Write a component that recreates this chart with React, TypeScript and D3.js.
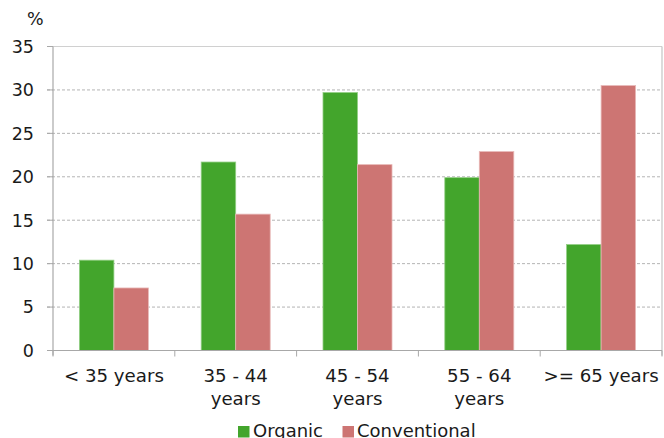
import * as d3 from "d3";

const categories = ["< 35 years", "35 - 44 years", "45 - 54 years", "55 - 64 years", ">= 65 years"];
const categoryLines = [["< 35 years"], ["35 - 44", "years"], ["45 - 54", "years"], ["55 - 64", "years"], [">= 65 years"]];
const seriesNames = ["Organic", "Conventional"];
const organic = [10.4, 21.7, 29.7, 19.9, 12.2];
const conventional = [7.2, 15.7, 21.4, 22.9, 30.5];
const yTicks = [0, 5, 10, 15, 20, 25, 30, 35];

const colors = ["#43a52c", "#cd7573"];
const strokes = ["#93cf85", "#e8b9b8"];

const width = 664;
const height = 438;
const plot = { left: 53, right: 662, top: 46.5, bottom: 350.5 };
const font = "'DejaVu Sans', Verdana, sans-serif";

const App = () => {
  const x0 = d3.scaleBand<string>().domain(categories).range([plot.left, plot.right]);
  const x1 = d3
    .scaleBand<string>()
    .domain(seriesNames)
    .range([0, x0.bandwidth()])
    .paddingInner(0)
    .paddingOuter(0.765);
  const y = d3.scaleLinear().domain([0, 35]).range([plot.bottom, plot.top]);

  const values = [organic, conventional];
  const bounds = categories.map((c) => x0(c)!).concat([plot.right]);

  return (
    <>
      <style>{"body{margin:0}"}</style>
      <svg width={width} height={height} style={{ display: "block" }} fontFamily={font}>
        {/* gridlines */}
        {yTicks.slice(1).map((t) => (
          <line key={t} x1={plot.left - 6} x2={plot.right} y1={y(t)} y2={y(t)}
            stroke="#b4b4b4" strokeDasharray="3,2" strokeWidth={1} />
        ))}
        {/* plot border top/right */}
        <line x1={plot.left} x2={plot.right} y1={y(35)} y2={y(35)} stroke="#d0d0d0" />
        <line x1={plot.right} x2={plot.right} y1={y(35)} y2={plot.bottom + 5} stroke="#c4c4c4" strokeWidth={1.2} />

        {/* bars */}
        {categories.map((c, i) =>
          seriesNames.map((s, j) => (
            <rect key={c + s}
              x={x0(c)! + x1(s)!}
              y={y(values[j][i])}
              width={x1.bandwidth()}
              height={y(0) - y(values[j][i])}
              fill={colors[j]} stroke={strokes[j]} strokeWidth={0.8} />
          ))
        )}

        {/* y axis */}
        <line x1={plot.left} x2={plot.left} y1={y(35)} y2={plot.bottom + 5} stroke="#a8a8a8" strokeWidth={1.2} />
        {yTicks.map((t) => (
          <g key={t}>
            <line x1={plot.left - 6} x2={plot.left} y1={y(t)} y2={y(t)} stroke="#a8a8a8" />
            <text x={34} y={y(t)} dy="0.36em" textAnchor="end" fontSize={17.5} fill="#1a1a1a">{t}</text>
          </g>
        ))}
        <text x={27} y={25} fontSize={17.5} fill="#1a1a1a">%</text>

        {/* x axis */}
        <line x1={plot.left - 6} x2={plot.right} y1={y(0)} y2={y(0)} stroke="#a8a8a8" strokeWidth={1.2} />
        {bounds.map((b, i) => (
          <line key={i} x1={b} x2={b} y1={y(0)} y2={y(0) + 6} stroke="#a8a8a8" />
        ))}
        {categories.map((c, i) => (
          <text key={c} textAnchor="middle" fontSize={18.2} fill="#1a1a1a">
            {categoryLines[i].map((ln, k) => (
              <tspan key={k} x={x0(c)! + x0.bandwidth() / 2} y={382 + k * 23}>{ln}</tspan>
            ))}
          </text>
        ))}

        {/* legend */}
        <rect x={238} y={426} width={11.5} height={11.5} fill={colors[0]} />
        <text x={253} y={437} fontSize={18} fill="#1a1a1a">{seriesNames[0]}</text>
        <rect x={342.5} y={426} width={11.5} height={11.5} fill={colors[1]} />
        <text x={357} y={437} fontSize={18} fill="#1a1a1a">{seriesNames[1]}</text>
      </svg>
    </>
  );
};

export default App;
